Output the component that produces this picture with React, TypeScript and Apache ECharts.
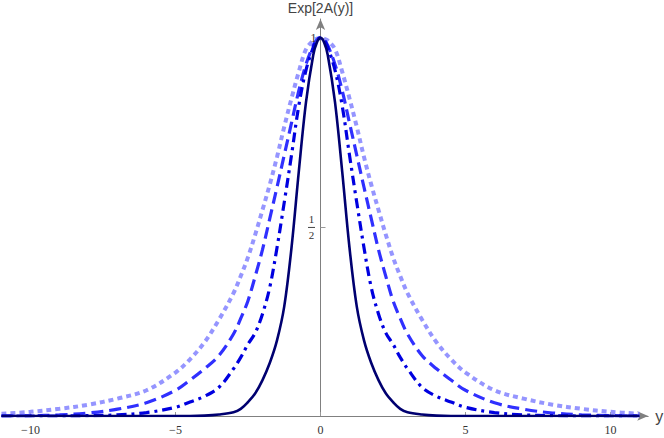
import React, { useEffect, useRef } from "react";
import * as echarts from "echarts";

// x grid (y coordinate of the plot)
const xs = [-11, -10, -9, -8, -7, -6, -5, -4.5, -4, -3.5, -3, -2.75, -2.5, -2.25, -2, -1.75, -1.5, -1.25, -1, -0.75, -0.5, -0.25, -0.125,
  0, 0.125, 0.25, 0.5, 0.75, 1, 1.25, 1.5, 1.75, 2, 2.25, 2.5, 2.75, 3, 3.5, 4, 4.5, 5, 6, 7, 8, 9, 10, 11];

const solidVals = [0, 0, 0, 0, 0, 0, 0, 0, 0.001, 0.004, 0.010, 0.019, 0.037, 0.06, 0.095, 0.14, 0.20, 0.29, 0.445, 0.645, 0.83, 0.955, 0.988,
  1, 0.988, 0.955, 0.83, 0.645, 0.445, 0.29, 0.20, 0.14, 0.095, 0.06, 0.037, 0.019, 0.010, 0.004, 0.001, 0, 0, 0, 0, 0, 0, 0, 0];

const dotDashVals = [0, 0, 0, 0.001, 0.003, 0.009, 0.023, 0.037, 0.052, 0.076, 0.125, 0.155, 0.19, 0.22, 0.27, 0.34, 0.445, 0.565, 0.69, 0.82, 0.915, 0.975, 0.994,
  1, 0.994, 0.975, 0.915, 0.82, 0.69, 0.565, 0.445, 0.34, 0.27, 0.22, 0.19, 0.155, 0.125, 0.076, 0.052, 0.037, 0.023, 0.009, 0.003, 0.001, 0, 0, 0];

const dashedVals = [0, 0.001, 0.003, 0.008, 0.018, 0.035, 0.068, 0.095, 0.125, 0.16, 0.217, 0.258, 0.305, 0.37, 0.44, 0.522, 0.605, 0.69, 0.775, 0.86, 0.93, 0.98, 0.995,
  1, 0.995, 0.98, 0.93, 0.86, 0.775, 0.69, 0.605, 0.522, 0.44, 0.37, 0.305, 0.258, 0.217, 0.16, 0.125, 0.095, 0.068, 0.035, 0.018, 0.008, 0.003, 0.001, 0];

const dottedVals = [0.006, 0.011, 0.019, 0.03, 0.046, 0.068, 0.115, 0.15, 0.195, 0.255, 0.325, 0.37, 0.42, 0.48, 0.545, 0.612, 0.685, 0.765, 0.84, 0.91, 0.97, 0.993, 0.998,
  1, 0.998, 0.993, 0.97, 0.91, 0.84, 0.765, 0.685, 0.612, 0.545, 0.48, 0.42, 0.37, 0.325, 0.255, 0.195, 0.15, 0.115, 0.068, 0.046, 0.03, 0.019, 0.011, 0.006];

const xTicks = [-10, -5, 0, 5, 10];
const yTicks = [0.5, 1];

const pairs = (vals: number[]) => xs.map((x, i) => [x, vals[i]]);

export default function App() {
  const ref = useRef<HTMLDivElement>(null);
  useEffect(() => {
    const chart = echarts.init(ref.current!, undefined, { renderer: "svg" });
    const lineSeries = (name: string, vals: number[], color: string, width: number, type: any, opacity = 1) => ({
      name,
      type: "line",
      data: pairs(vals),
      showSymbol: false,
      smooth: 0.35,
      lineStyle: { color, width, type, cap: "butt", opacity },
      z: 3,
    });
    chart.setOption({
      animation: false,
      backgroundColor: "#ffffff",
      grid: { left: 1.5, right: 15.8, top: 19, bottom: 22, containLabel: false, outerBoundsMode: "none" },
      xAxis: {
        type: "value",
        min: -11,
        max: 11.3,
        name: "y",
        nameLocation: "end",
        nameGap: 7,
        nameTextStyle: { fontFamily: "Liberation Sans", fontSize: 16, color: "#444", verticalAlign: "middle" },
        axisLine: { onZero: true, symbol: ["none", "arrow"], symbolSize: [7, 11], lineStyle: { color: "#808080", width: 1 } },
        axisTick: { show: true, inside: true, length: 4, customValues: xTicks, lineStyle: { color: "#999" } },
        axisLabel: {
          customValues: xTicks,
          formatter: (v: number) => (v < 0 ? "\u2212" + Math.abs(v) : String(v)),
          fontFamily: "Liberation Serif",
          fontSize: 12,
          color: "#333",
          margin: 8,
        },
        splitLine: { show: false },
      },
      yAxis: {
        type: "value",
        min: 0,
        max: 1.05,
        name: "Exp[2A(y)]",
        nameLocation: "end",
        nameGap: 4,
        nameTextStyle: { fontFamily: "Liberation Sans", fontSize: 14, color: "#444", align: "center" },
        axisLine: { onZero: true, symbol: ["none", "arrow"], symbolSize: [7, 11], lineStyle: { color: "#808080", width: 1 } },
        axisTick: { show: true, inside: true, length: 5, customValues: yTicks, lineStyle: { color: "#999" } },
        axisLabel: { show: false },
        splitLine: { show: false },
      },
      series: [
        lineSeries("dotted", dottedVals, "#8f8fff", 4, [5, 4], 0.95),
        lineSeries("dashed", dashedVals, "#3030ff", 3.2, [12, 6]),
        lineSeries("dotdash", dotDashVals, "#0000e0", 3.2, [10, 5, 3, 5]),
        lineSeries("solid", solidVals, "#000070", 2.6, "solid"),
      ],
    });
    // y tick labels placed beside the axis line, through the chart's own scale
    const pOne = chart.convertToPixel({ gridIndex: 0 }, [0, yTicks[1]]) as number[];
    const pHalf = chart.convertToPixel({ gridIndex: 0 }, [0, yTicks[0]]) as number[];
    const serif = "Liberation Serif";
    chart.setOption({
      graphic: [
        {
          type: "text", x: pOne[0] - 7, y: pOne[1], z: 10,
          style: { text: "1", font: `12px '${serif}'`, fill: "#333", align: "center", verticalAlign: "middle" },
        },
        {
          type: "text", x: pHalf[0] - 9, y: pHalf[1] - 2, z: 10,
          style: { text: "1", font: `11px '${serif}'`, fill: "#333", align: "center", verticalAlign: "bottom" },
        },
        {
          type: "line", z: 10,
          shape: { x1: pHalf[0] - 12.5, y1: pHalf[1] + 0.5, x2: pHalf[0] - 5.5, y2: pHalf[1] + 0.5 },
          style: { stroke: "#444", lineWidth: 1 },
        },
        {
          type: "text", x: pHalf[0] - 9, y: pHalf[1] + 3, z: 10,
          style: { text: "2", font: `11px '${serif}'`, fill: "#333", align: "center", verticalAlign: "top" },
        },
      ],
    });
    return () => chart.dispose();
  }, []);
  return <div ref={ref} style={{ position: "fixed", left: 0, top: 0, width: 664, height: 438 }} />;
}
